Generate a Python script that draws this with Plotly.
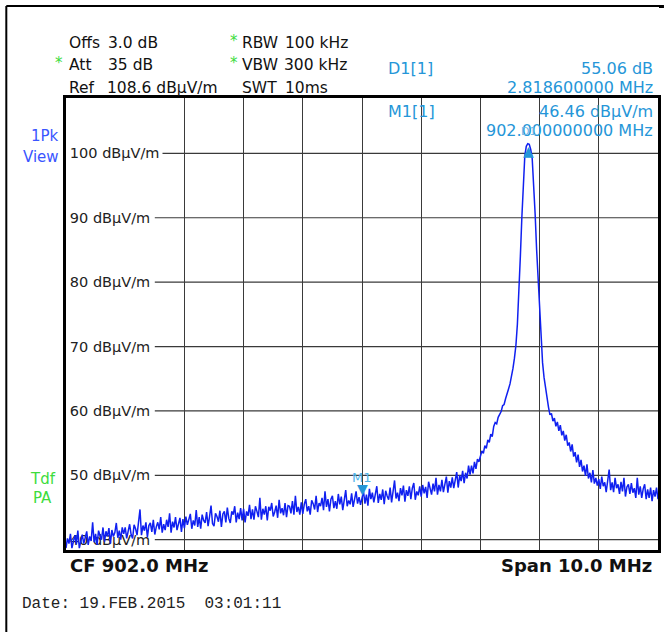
import numpy as np
import plotly.graph_objects as go

# ---- data ----
f_start, f_stop, f_step = 897.0, 907.0, 0.025
freqs_mhz = np.round(np.arange(f_start, f_stop + 1e-9, f_step), 4)
level_dbuv = [
    # 897 - 898 MHz
    38.7, 40.2, 39.4, 40.9, 38.7, 40.0, 40.7, 39.3, 41.4, 38.7,
    39.8, 40.8, 39.4, 40.5, 41.3, 39.2, 40.5, 39.8, 42.7, 39.6,
    40.9, 39.2, 41.4, 40.6, 40.0, 41.9, 39.7, 41.3, 40.5, 41.8,
    39.4, 41.5, 40.5, 41.1, 42.6, 40.3, 41.4, 40.0, 41.9, 40.9,
    # 898 - 899 MHz
    41.9, 40.2, 41.5, 42.4, 40.8, 40.2, 42.3, 41.7, 40.7, 42.9,
    44.7, 40.7, 42.2, 41.4, 42.7, 40.4, 42.2, 42.6, 41.2, 43.1,
    40.8, 42.0, 42.7, 41.6, 43.5, 41.1, 42.4, 41.5, 43.1, 42.0,
    44.1, 41.1, 42.8, 41.9, 43.5, 41.5, 42.7, 43.4, 41.2, 43.2,
    # 899 - 900 MHz
    41.8, 43.6, 42.3, 43.2, 44.0, 41.7, 43.0, 42.2, 44.6, 42.0,
    43.5, 41.7, 43.9, 43.0, 42.6, 44.3, 42.1, 43.6, 45.3, 42.5,
    42.1, 44.1, 43.6, 42.8, 44.5, 42.0, 44.0, 44.4, 42.7, 45.0,
    43.3, 42.6, 44.4, 43.9, 45.2, 42.7, 44.2, 43.2, 44.9, 43.0,
    # 900 - 901 MHz
    44.8, 42.7, 44.4, 43.7, 45.4, 43.2, 44.7, 43.1, 45.2, 44.4,
    43.5, 46.5, 43.1, 44.8, 43.9, 45.2, 43.0, 45.1, 44.5, 45.7,
    43.6, 44.3, 45.3, 43.4, 46.2, 44.1, 44.9, 43.8, 45.7, 43.5,
    45.3, 45.2, 44.1, 46.0, 43.9, 46.8, 44.3, 45.1, 43.9, 45.8,
    # 901 - 902 MHz
    44.0, 45.5, 46.3, 44.4, 45.2, 43.9, 46.1, 45.6, 44.7, 46.8,
    44.3, 45.7, 45.2, 46.5, 44.6, 47.5, 45.1, 46.3, 44.4, 46.3,
    46.8, 44.9, 46.0, 44.8, 47.1, 45.5, 46.7, 44.6, 46.5, 47.7,
    45.2, 46.1, 45.5, 47.2, 45.1, 46.6, 47.5, 45.6, 46.6, 45.4,
    # 902 - 903 MHz
    46.5, 47.5, 45.6, 47.0, 45.3, 47.9, 46.3, 47.3, 45.8, 46.8,
    48.3, 45.7, 47.1, 46.2, 47.8, 45.5, 47.6, 46.8, 46.2, 48.1,
    45.8, 47.5, 49.2, 46.4, 47.3, 46.0, 48.0, 46.9, 48.4, 45.9,
    47.7, 46.8, 48.3, 46.3, 48.0, 48.8, 46.2, 47.5, 46.9, 48.3,
    # 903 - 904 MHz
    46.7, 48.5, 47.2, 48.2, 46.5, 49.0, 47.9, 47.0, 48.7, 47.5,
    49.6, 47.0, 48.5, 47.5, 49.3, 47.4, 48.6, 49.8, 47.3, 49.1,
    48.1, 49.7, 48.0, 49.3, 50.5, 48.1, 50.0, 49.1, 50.7, 48.8,
    50.4, 49.5, 51.5, 50.1, 51.5, 50.3, 52.1, 51.0, 52.5, 52.1,
    # 904 - 905 MHz (carrier)
    53.1, 53.8, 53.4, 54.6, 54.2, 55.5, 55.1, 56.4, 56.0, 57.6,
    58.2, 58.0, 59.0, 59.4, 59.9, 60.8, 61.0, 61.9, 62.5, 63.4,
    64.2, 65.3, 66.6, 68.2, 70.2, 73.5, 78.0, 84.0, 90.0, 95.5,
    99.6, 101.1, 101.5, 101.4, 100.6, 99.2, 95.5, 90.5, 85.0, 80.0,
    # 905 - 906 MHz
    75.5, 71.0, 67.5, 65.2, 63.4, 61.5, 60.6, 59.4, 59.6, 58.4,
    58.9, 57.6, 58.3, 56.9, 57.8, 56.2, 56.9, 55.4, 56.3, 54.6,
    55.1, 53.7, 54.8, 52.9, 53.6, 52.0, 53.2, 51.3, 52.4, 50.6,
    51.5, 49.9, 51.7, 49.5, 50.4, 48.9, 50.8, 48.7, 49.6, 48.4,
    # 906 - 907 MHz
    49.4, 47.9, 49.8, 48.3, 48.9, 47.4, 49.3, 50.9, 47.7, 48.9,
    47.4, 49.6, 48.0, 48.6, 47.1, 49.0, 47.5, 49.6, 46.7, 48.2,
    48.6, 47.1, 48.8, 47.3, 48.0, 46.5, 49.6, 47.0, 48.3, 46.5,
    47.9, 48.6, 46.3, 47.8, 46.5, 48.1, 46.0, 47.7, 46.7, 48.1,
    46.3,
]
y_ticks = [40, 50, 60, 70, 80, 90, 100]
y_tick_text = [f"{v} dBµV/m" for v in y_ticks]
ref_level = 108.6
y_bottom = 38.4

m1_freq, m1_level = 902.0, 46.46
d1_freq, d1_level = 904.8186, 101.52

W, H = 668, 633
L, R, T, B = 66, 661, 98, 550


def px(x):
    return (x - L) / (R - L)


def py(y):
    return (B - y) / (B - T)


INFO = "#2596d8"
GREEN = "#3ddc3d"
BLACK = "#111111"
FONT = "DejaVu Sans"

fig = go.Figure()
fig.add_trace(go.Scatter(x=freqs_mhz, y=level_dbuv, mode="lines",
                         line=dict(color="#1020f0", width=1.5), hoverinfo="skip"))

ann = []


def t(x, y, text, color=BLACK, size=16, xa="left", family=FONT, bold=False):
    if bold:
        text = f"<b>{text}</b>"
    ann.append(dict(x=px(x), y=py(y), xref="paper", yref="paper", text=text, showarrow=False,
                    xanchor=xa, yanchor="middle", font=dict(family=family, size=size, color=color)))


t(67, 43, "Offs", size=15.5)
t(106, 43, "3.0 dB", size=15.5)
t(53, 63, "*", GREEN, 15)
t(67, 65, "Att", size=15.5)
t(106, 65, "35 dB", size=15.5)
t(67, 88, "Ref", size=15.5)
t(105, 88, "108.6 dBµV/m", size=15.5)
t(229, 41, "*", GREEN, 15)
t(241, 43, "RBW", size=15.5)
t(284, 43, "100 kHz", size=15.5)
t(229, 63, "*", GREEN, 15)
t(241, 65, "VBW", size=15.5)
t(283, 65, "300 kHz", size=15.5)
t(241, 88, "SWT", size=15.5)
t(284, 88, "10ms", size=15.5)

t(388, 68, "D1[1]", INFO)
t(658, 68, "55.06 dB", INFO, xa="right")
t(658, 87, "2.818600000 MHz", INFO, xa="right")
t(388, 111, "M1[1]", INFO)
t(658, 111, "46.46 dBµV/m", INFO, xa="right")
t(658, 131, "902.000000000 MHz", INFO, xa="right")

t(61, 136, "1Pk", "#3a55ff", 15, xa="right")
t(61, 157, "View", "#3a55ff", 15, xa="right")
t(43, 479, "Tdf", GREEN, 15, xa="center")
t(42, 498, "PA", GREEN, 15, xa="center")

t(68, 565, "CF 902.0 MHz", BLACK, 18, bold=True)
t(657, 565, "Span 10.0 MHz", BLACK, 18, xa="right", bold=True)
t(20, 604, "Date: 19.FEB.2015  03:01:11".replace("  ", "\u00a0\u00a0"), "#222222", 16,
  family="Liberation Mono")

# markers
ann.append(dict(x=m1_freq, y=m1_level, xref="x", yref="y", text="▼", showarrow=False,
                yanchor="bottom", yshift=-1, font=dict(family=FONT, size=14, color=INFO)))
ann.append(dict(x=m1_freq, y=m1_level, xref="x", yref="y", text="M1", showarrow=False,
                yanchor="bottom", yshift=11, font=dict(family=FONT, size=13, color="#4fb3ea")))
ann.append(dict(x=d1_freq, y=d1_level, xref="x", yref="y", text="▲", showarrow=False,
                yanchor="top", yshift=3, font=dict(family=FONT, size=14, color=INFO)))
ann.append(dict(x=d1_freq, y=d1_level, xref="x", yref="y", text="D1", showarrow=False,
                yanchor="bottom", yshift=4, font=dict(family=FONT, size=11, color="#6fb8e6")))

shapes = []
# horizontal grid lines starting after the inside labels
for v in y_ticks:
    start = f_start + (1.63 if v >= 100 else 1.50)
    shapes.append(dict(type="line", xref="x", yref="y", x0=start, x1=f_stop, y0=v, y1=v,
                       line=dict(color="#3a3a3a", width=1.2), layer="below"))
# outer frame
shapes.append(dict(type="line", xref="paper", yref="paper", x0=px(6), x1=px(6), y0=py(632), y1=py(6),
                   line=dict(color="black", width=2)))
shapes.append(dict(type="line", xref="paper", yref="paper", x0=px(6), x1=px(665), y0=py(6), y1=py(6),
                   line=dict(color="black", width=2)))
shapes.append(dict(type="rect", xref="paper", yref="paper", x0=px(662), x1=px(667), y0=py(8), y1=py(5),
                   fillcolor="black", line=dict(width=0)))

fig.update_layout(
    width=W, height=H,
    margin=dict(l=L, r=W - R, t=T, b=H - B, pad=0),
    paper_bgcolor="white", plot_bgcolor="white",
    showlegend=False,
    annotations=ann, shapes=shapes,
    xaxis=dict(range=[f_start, f_stop], dtick=1, tick0=f_start, showticklabels=False,
               showgrid=True, gridcolor="#3a3a3a", gridwidth=1.2, zeroline=False,
               showline=True, linecolor="black", linewidth=2.5, mirror=True, ticks=""),
    yaxis=dict(range=[y_bottom, ref_level], tickvals=y_ticks, ticktext=y_tick_text,
               ticklabelposition="inside", ticks="", showgrid=False, zeroline=False,
               showline=True, linecolor="black", linewidth=2.5, mirror=True,
               tickfont=dict(family=FONT, size=14.5, color="#222222"), layer="below traces",
               ticklabelstandoff=4),
)

fig.write_html("out.html", config={"displayModeBar": False},
               post_script="document.body.style.margin='0';")
